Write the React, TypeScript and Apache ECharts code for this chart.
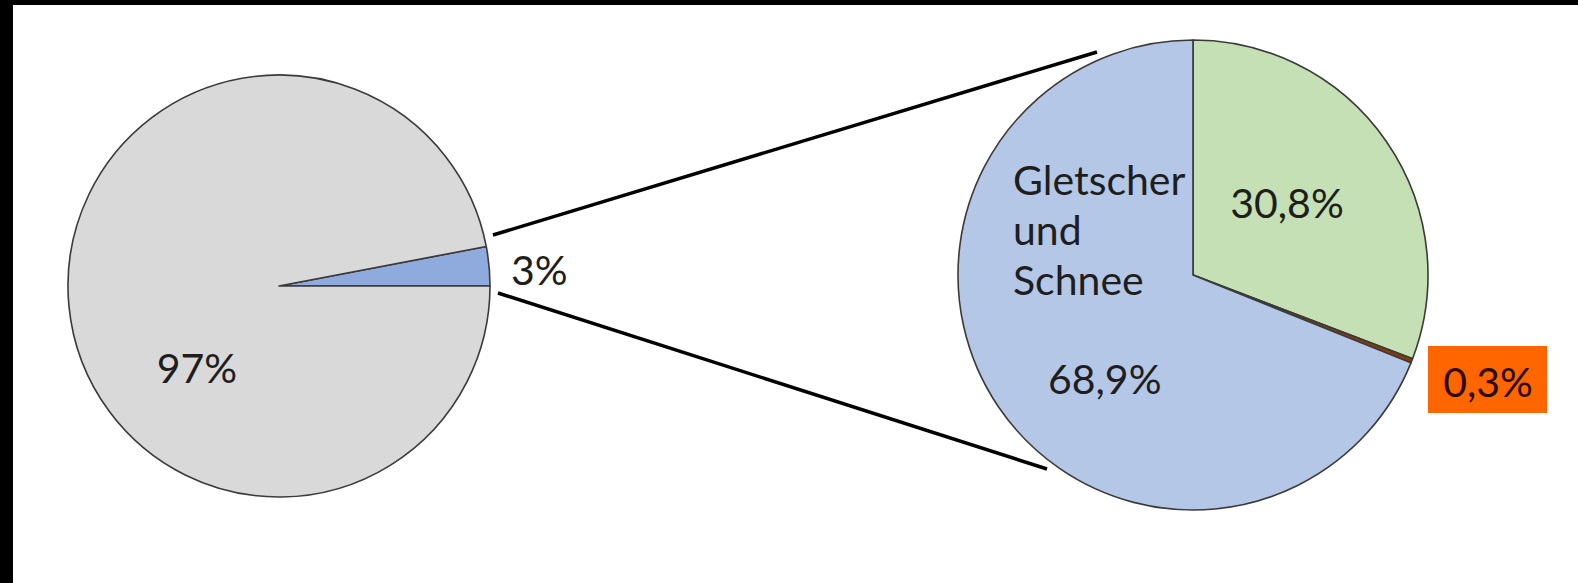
import React, { useEffect, useRef } from "react";
import * as echarts from "echarts";

const totalNames = ["Süßwasser", "Salzwasser"];
const totalValues = [3, 97];
const totalLabels = ["3%", "97%"];
const totalColors = ["#8FAADC", "#D9D9D9"];

const freshNames = ["Grundwasser", "Oberflächenwasser", "Gletscher und Schnee"];
const freshValues = [30.8, 0.3, 68.9];
const freshLabels = ["30,8%", "0,3%", "68,9%"];
const freshColors = ["#C5E0B4", "#843C0C", "#B4C7E7"];

export default function App() {
  const ref = useRef<HTMLDivElement>(null);
  useEffect(() => {
    if (!ref.current) return;
    const chart = echarts.init(ref.current, null, { renderer: "svg" });
    const font = (s: number) => `${s}px Lato, "Open Sans", sans-serif`;
    const txt = (text: string, x: number, y: number, align: string, fill = "#1E1E1E") => ({
      type: "text",
      x,
      y,
      z: 10,
      style: { text, font: font(41), fill, align, verticalAlign: "middle" },
    });
    const gl = freshNames[2].split(" ");
    chart.setOption({
      animation: false,
      backgroundColor: "#FFFFFF",
      series: [
        {
          type: "pie",
          center: [279, 286],
          radius: 211,
          startAngle: 0,
          clockwise: false,
          label: { show: false },
          labelLine: { show: false },
          silent: true,
          itemStyle: { borderColor: "#3A3A3A", borderWidth: 1.6 },
          data: totalNames.map((n, i) => ({
            name: n,
            value: totalValues[i],
            itemStyle: { color: totalColors[i] },
          })),
        },
        {
          type: "pie",
          center: [1193, 275],
          radius: 235,
          startAngle: 90,
          clockwise: true,
          label: { show: false },
          labelLine: { show: false },
          silent: true,
          itemStyle: { borderColor: "#3A3A3A", borderWidth: 1.6 },
          data: freshNames.map((n, i) => ({
            name: n,
            value: freshValues[i],
            itemStyle: { color: freshColors[i] },
          })),
        },
      ],
      graphic: [
        { type: "rect", shape: { x: 0, y: 0, width: 13, height: 583 }, style: { fill: "#000" }, z: 20 },
        { type: "rect", shape: { x: 0, y: 0, width: 1578, height: 5 }, style: { fill: "#000" }, z: 20 },
        { type: "line", shape: { x1: 493, y1: 235, x2: 1097, y2: 52 }, style: { stroke: "#000", lineWidth: 3.5 } },
        { type: "line", shape: { x1: 498, y1: 293, x2: 1047, y2: 469 }, style: { stroke: "#000", lineWidth: 3.5 } },
        txt(totalLabels[1], 197, 367, "center"),
        txt(totalLabels[0], 511, 269, "left"),
        txt(gl[0], 1013, 179, "left"),
        txt(gl[1], 1013, 229, "left"),
        txt(gl[2], 1013, 279, "left"),
        txt(freshLabels[2], 1048, 378, "left"),
        txt(freshLabels[0], 1287, 202, "center"),
        { type: "rect", shape: { x: 1428, y: 346, width: 119, height: 67 }, style: { fill: "#FF6600" }, z: 9 },
        txt(freshLabels[1], 1488, 381, "center", "#2A0A00"),
      ],
    });
    return () => chart.dispose();
  }, []);
  return (
    <div
      ref={ref}
      style={{ position: "absolute", left: 0, top: 0, width: 1578, height: 583, background: "#fff" }}
    />
  );
}
